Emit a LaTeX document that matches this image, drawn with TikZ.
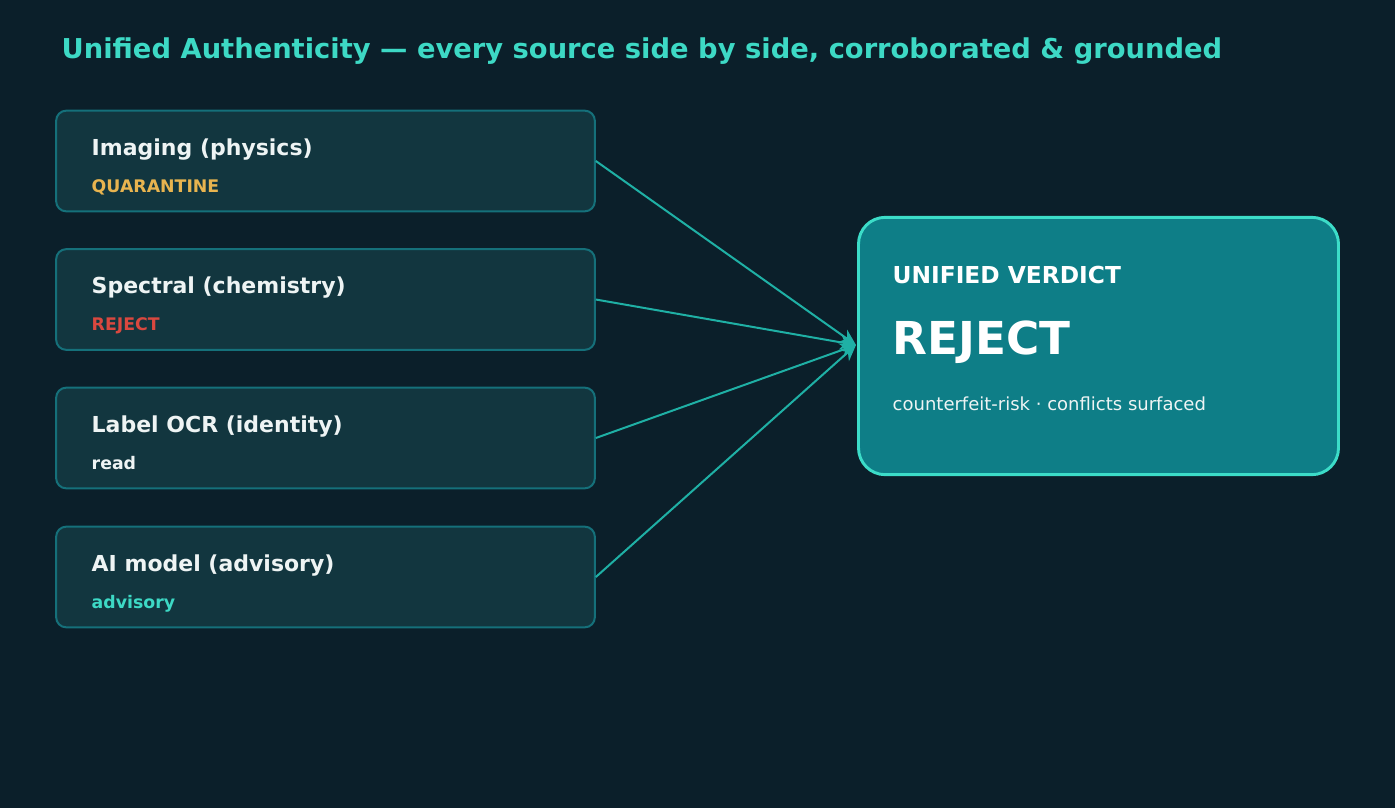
\documentclass[tikz,border=0pt]{standalone}
\usepackage{fontspec}
\setmainfont{DejaVu Sans}
\usetikzlibrary{arrows.meta}
\definecolor{bg}{HTML}{0B1F2A}
\definecolor{boxf}{HTML}{12363F}
\definecolor{boxd}{HTML}{15707A}
\definecolor{verf}{HTML}{0E7E87}
\definecolor{verd}{HTML}{3CDCC8}
\definecolor{ttl}{HTML}{3DD9C5}
\definecolor{lnk}{HTML}{1FB0A5}
\definecolor{wht}{HTML}{EEF4F4}
\definecolor{quar}{HTML}{E8B44F}
\definecolor{rej}{HTML}{D9483F}
\begin{document}
\begin{tikzpicture}[x=0.75pt,y=-0.75pt,
  src/.style={draw=boxd,fill=boxf,line width=1.5pt,rounded corners=7.5pt,minimum width=404pt,minimum height=75.5pt},
  head/.style={anchor=base west,text=wht,font=\bfseries\fontsize{16.5}{20}\selectfont},
  sub/.style={anchor=base west,font=\bfseries\fontsize{13}{16}\selectfont},
  lk/.style={draw=lnk,line width=1.5pt,-{Stealth[length=12pt,width=11pt]}}]
\fill[bg] (0,0) rectangle (1395,808);
\node[anchor=base west,text=ttl,font=\bfseries\fontsize{20.5}{24}\selectfont] (title) at (57,58) {Unified Authenticity — every source side by side, corroborated \& grounded};
\node[src] (b1) at (325.5,161) {};
\node[src] (b2) at (325.5,299.5) {};
\node[src] (b3) at (325.5,438) {};
\node[src] (b4) at (325.5,577) {};
\node[head] (h1) at (87,155) {Imaging (physics)};
\node[sub,text=quar] (s1) at (87,192) {QUARANTINE};
\node[head] (h2) at (87,293) {Spectral (chemistry)};
\node[sub,text=rej] (s2) at (87,330) {REJECT};
\node[head] (h3) at (87,432) {Label OCR (identity)};
\node[sub,text=wht] (s3) at (87,469) {read};
\node[head] (h4) at (87,571) {AI model (advisory)};
\node[sub,text=ttl] (s4) at (87,608) {advisory};
\node[draw=verd,fill=verf,line width=2.2pt,rounded corners=20pt,minimum width=360pt,minimum height=193pt] (v) at (1098.5,346) {};
\coordinate (tip) at (856,345);
\node[anchor=base west,text=white,font=\bfseries\fontsize{17.5}{21}\selectfont] (vh) at (888,283) {UNIFIED VERDICT};
\node[anchor=base west,text=white,font=\bfseries\fontsize{34}{40}\selectfont] (vr) at (888,354) {REJECT};
\node[anchor=base west,text=wht,font=\fontsize{13.5}{16}\selectfont] (vs) at (888,410) {counterfeit-risk · conflicts surfaced};
\draw[lk] (b1.east) -- (tip);
\draw[lk] (b2.east) -- (tip);
\draw[lk] (b3.east) -- (tip);
\draw[lk] (b4.east) -- (tip);
\end{tikzpicture}
\end{document}
